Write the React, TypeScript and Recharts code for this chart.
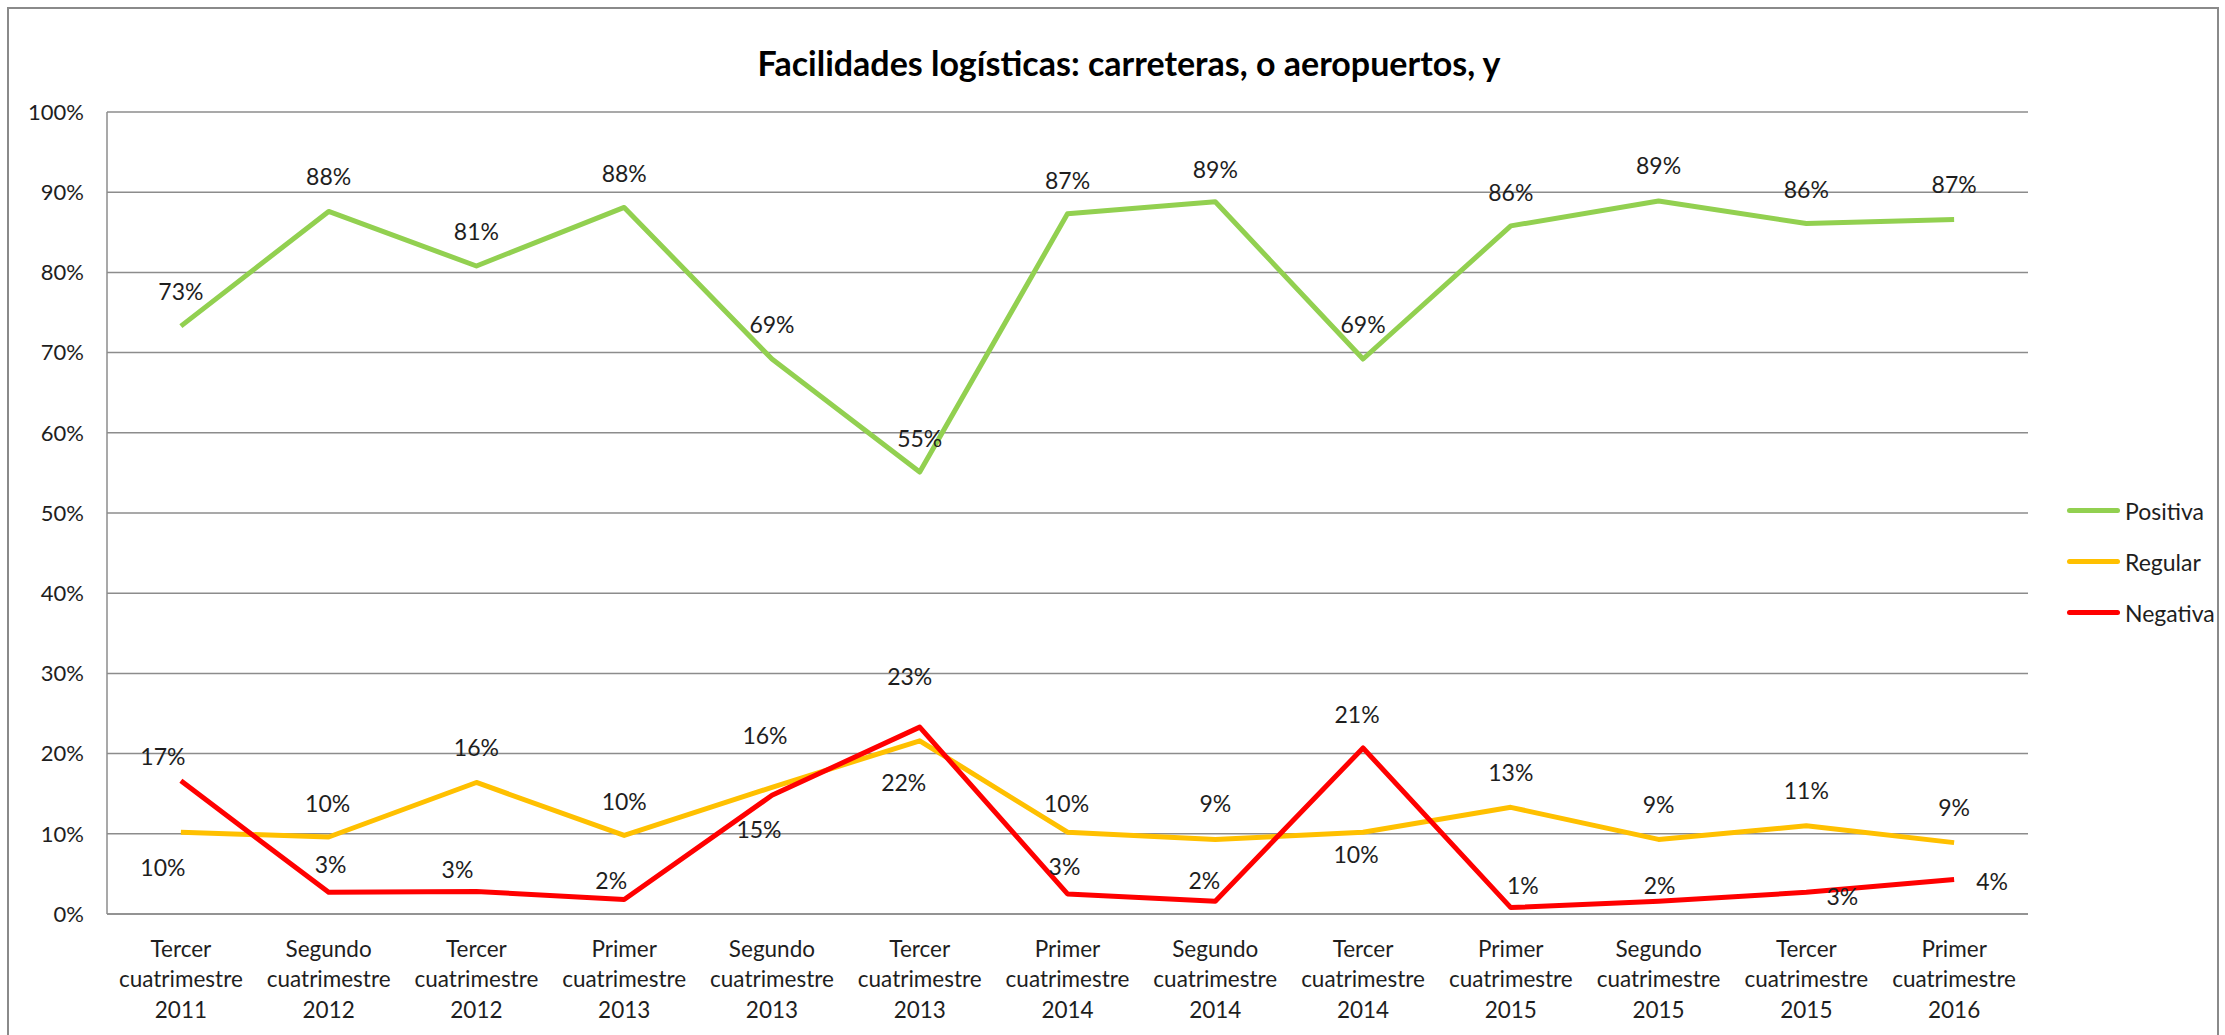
import { LineChart, Line, XAxis, YAxis, CartesianGrid, Legend, LabelList } from "recharts";

const categories = [
  "Tercer cuatrimestre 2011",
  "Segundo cuatrimestre 2012",
  "Tercer cuatrimestre 2012",
  "Primer cuatrimestre 2013",
  "Segundo cuatrimestre 2013",
  "Tercer cuatrimestre 2013",
  "Primer cuatrimestre 2014",
  "Segundo cuatrimestre 2014",
  "Tercer cuatrimestre 2014",
  "Primer cuatrimestre 2015",
  "Segundo cuatrimestre 2015",
  "Tercer cuatrimestre 2015",
  "Primer cuatrimestre 2016",
];

const positiva = [73.3, 87.6, 80.8, 88.1, 69.2, 55.1, 87.3, 88.8, 69.2, 85.8, 88.9, 86.1, 86.6];
const regular = [10.2, 9.6, 16.4, 9.8, 15.8, 21.6, 10.2, 9.3, 10.2, 13.3, 9.3, 11.0, 8.9];
const negativa = [16.6, 2.7, 2.8, 1.8, 14.8, 23.3, 2.5, 1.6, 20.7, 0.8, 1.6, 2.7, 4.3];

const yTicks = [0, 10, 20, 30, 40, 50, 60, 70, 80, 90, 100];

// where excel left each data label, relative to its point (dx, dy)
const positivaLabelShift = [
  [0, -35], [0, -35], [0, -35], [0, -34], [0, -35], [0, -34], [0, -34],
  [0, -33], [0, -35], [0, -34], [0, -36], [0, -34], [0, -35],
];
const regularLabelShift = [
  [-18, 35], [-1, -34], [0, -35], [0, -34], [-7, -52], [-16, 41], [-1, -29],
  [0, -36], [-7, 22], [0, -35], [0, -35], [0, -36], [0, -36],
];
const negativaLabelShift = [
  [-18, -25], [2, -28], [-19, -23], [-13, -20], [-13, 34], [-10, -51], [-3, -28],
  [-11, -21], [-6, -34], [12, -23], [1, -16], [36, 4], [38, 1],
];

const FONT = "Lato, sans-serif";
const TEXT = "#1e1e1e";
const GRID = "#8c8c8c";

const series = [
  { key: "Positiva", color: "#92D050", shift: positivaLabelShift },
  { key: "Regular", color: "#FFC000", shift: regularLabelShift },
  { key: "Negativa", color: "#FF0000", shift: negativaLabelShift },
];

const data = categories.map((name, i) => ({
  name,
  Positiva: positiva[i],
  Regular: regular[i],
  Negativa: negativa[i],
}));

function CategoryTick(props: any) {
  const { x, y, payload } = props;
  const lines = String(payload.value).split(" ");
  return (
    <g>
      {lines.map((line, i) => (
        <text
          key={i}
          x={x}
          y={y + 34 + i * 30.5}
          textAnchor="middle"
          dominantBaseline="central"
          fontFamily={FONT}
          fontSize={22.5}
          fill={TEXT}
        >
          {line}
        </text>
      ))}
    </g>
  );
}

const makeLabel = (shift: number[][]) => (props: any) => {
  const { x, y, value, index } = props;
  const [dx, dy] = shift[index] || [0, -35];
  return (
    <text
      x={x + dx}
      y={y + dy}
      textAnchor="middle"
      dominantBaseline="central"
      fontFamily={FONT}
      fontSize={23}
      fill={TEXT}
    >
      {Math.round(value)}%
    </text>
  );
};

function LegendBox() {
  return (
    <div style={{ fontFamily: FONT }}>
      {series.map((it) => (
        <div key={it.key} style={{ display: "flex", alignItems: "center", height: 51 }}>
          <span style={{ display: "inline-block", width: 53, height: 5, borderRadius: 3, background: it.color }} />
          <span style={{ marginLeft: 5, fontSize: 23, color: TEXT }}>{it.key}</span>
        </div>
      ))}
    </div>
  );
}

export default function App() {
  return (
    <div style={{ position: "absolute", left: 0, top: 0, width: 2225, height: 1035, background: "#fff", overflow: "hidden" }}>
      <div
        style={{
          position: "absolute",
          left: 7,
          top: 7,
          width: 2212,
          height: 1060,
          border: "2px solid #8a8a8a",
          boxSizing: "border-box",
        }}
      />
      <div
        style={{
          position: "absolute",
          left: 529,
          top: 43,
          width: 1200,
          textAlign: "center",
          fontFamily: FONT,
          fontWeight: 700,
          fontSize: 34,
          lineHeight: "40px",
          color: "#000",
        }}
      >
        Facilidades logísticas: carreteras, o aeropuertos, y
      </div>
      <div style={{ position: "absolute", left: 0, top: 0 }}>
        <LineChart width={2225} height={1035} data={data} margin={{ top: 112, right: 197, bottom: 0, left: 0 }}>
          <CartesianGrid vertical={false} stroke={GRID} strokeWidth={1.5} />
          <XAxis
            dataKey="name"
            scale="band"
            interval={0}
            height={121}
            tickLine={false}
            tickSize={0}
            tickMargin={0}
            axisLine={{ stroke: GRID, strokeWidth: 1.5 }}
            tick={<CategoryTick />}
          />
          <YAxis
            width={107}
            domain={[0, 100]}
            ticks={yTicks}
            tickFormatter={(v: number) => `${v}%`}
            tickLine={false}
            tickSize={0}
            tickMargin={23}
            axisLine={{ stroke: GRID, strokeWidth: 1.5 }}
            tick={{ fontFamily: FONT, fontSize: 22, fill: TEXT }}
          />
          <Legend
            layout="vertical"
            verticalAlign="middle"
            align="center"
            wrapperStyle={{ position: "absolute", left: 2067, top: 485, width: 155 }}
            content={<LegendBox />}
          />
          {series.map((s) => (
            <Line
              key={s.key}
              dataKey={s.key}
              stroke={s.color}
              strokeWidth={5}
              strokeLinejoin="round"
              dot={false}
              activeDot={false}
              isAnimationActive={false}
            >
              <LabelList dataKey={s.key} content={makeLabel(s.shift)} />
            </Line>
          ))}
        </LineChart>
      </div>
    </div>
  );
}
